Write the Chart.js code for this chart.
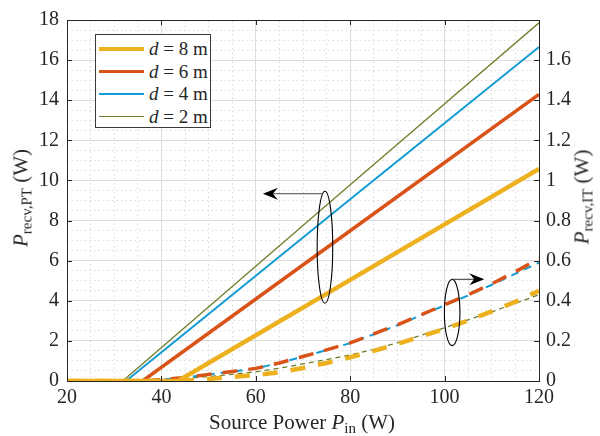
<!DOCTYPE html>
<html>
<head>
<meta charset="utf-8">
<script src="https://cdn.jsdelivr.net/npm/chart.js@4.4.0/dist/chart.umd.min.js"></script>
<style>
    html, body { margin: 0; padding: 0; background: #fff; }
    #wrap { position: relative; width: 600px; height: 436px; font-family: 'Liberation Serif', 'DejaVu Serif', serif; color: #262626; }
    #chart { position: absolute; left: 0; top: 0; }
    .ttl { position: absolute; font-size: 21px; white-space: nowrap; transform: translate(-50%, -50%); }
    .ttl sub { font-size: 15px; vertical-align: -4px; }
    .rot { transform: translate(-50%, -50%) rotate(-90deg); }
    #legend { position: absolute; left: 95px; top: 34px; width: 116px; height: 94px; border: 1px solid #3a3a3a; background: #fff; box-sizing: border-box; }
    .item { position: absolute; left: 3px; height: 22px; font-size: 19px; line-height: 22px; white-space: nowrap; }
    .swatch { position: absolute; left: 0; width: 45px; }
    .lbl { position: absolute; left: 50px; top: 0; }
</style>
</head>
<body>
<div id="wrap">
    <canvas id="chart" width="600" height="436"></canvas>
    <div class="ttl" style="left:302px; top:423px;">Source Power <i>P</i><sub>in</sub> (W)</div>
    <div class="ttl rot" style="left:22px; top:198px;"><i>P</i><sub>recv,PT</sub> (W)</div>
    <div class="ttl rot" style="left:583px; top:197px;"><i>P</i><sub>recv,IT</sub> (W)</div>
    <div id="legend"></div>
</div>
<script>
// Axis ranges and ticks
const pinTicks = [20, 40, 60, 80, 100, 120];
const ptTicks = [0, 2, 4, 6, 8, 10, 12, 14, 16, 18];

// Legend order: d = 8, 6, 4, 2 m
const distances = ['8', '6', '4', '2'];
const colors = ['#EDB120', '#D95319', '#129CD4', '#6E7E2A'];
const widths = [4.5, 3.5, 2, 1.3];
const dashes = [[15, 13], [15, 11], [8, 6], [5, 4]];

// Received power through PT (W), left axis, solid lines
const ptPin8 = [20, 43.5, 80, 120];
const pt8 = [0, 0, 5.04, 10.57];
const ptPin6 = [20, 36, 80, 120];
const pt6 = [0, 0, 7.49, 14.29];
const ptPin4 = [20, 32.5, 80, 120];
const pt4 = [0, 0, 9.06, 16.65];
const ptPin2 = [20, 31.8, 80, 120];
const pt2 = [0, 0, 9.78, 17.86];

// Received power through IT (W), right axis, dashed lines
const itPin = [20, 25, 30, 35, 40, 45, 50, 55, 60, 65, 70, 75, 80, 85, 90, 95, 100, 105, 110, 115, 120];
const it8 = [0, 0, 0, 0, 0, 0.002, 0.01, 0.02, 0.03, 0.043, 0.065, 0.09, 0.118, 0.15, 0.185, 0.222, 0.26, 0.302, 0.347, 0.395, 0.45];
const it6 = [0, 0, 0, 0, 0.006, 0.018, 0.033, 0.047, 0.063, 0.09, 0.122, 0.155, 0.19, 0.235, 0.28, 0.33, 0.38, 0.43, 0.485, 0.545, 0.61];
const it4 = [0, 0, 0, 0.002, 0.007, 0.018, 0.033, 0.047, 0.063, 0.09, 0.121, 0.154, 0.189, 0.233, 0.278, 0.328, 0.377, 0.427, 0.48, 0.535, 0.59];
const it2 = [0, 0, 0, 0.002, 0.006, 0.013, 0.022, 0.033, 0.046, 0.064, 0.085, 0.107, 0.13, 0.158, 0.19, 0.228, 0.266, 0.305, 0.345, 0.387, 0.43];

// Ellipse + arrow annotations (data units)
const ptMark = { cx: 74.65, cy: 6.67, rx: 1.65, ry: 2.79, ax: 74.2, ay: 9.34, tip: 61.5, axis: 'y' };
const itMark = { cx: 101.6, cy: 0.3415, rx: 1.65, ry: 0.165, ax: 101.6, ay: 0.507, tip: 108.4, axis: 'y2' };

const ptX = [ptPin8, ptPin6, ptPin4, ptPin2];
const ptY = [pt8, pt6, pt4, pt2];
const itY = [it8, it6, it4, it2];

const pairs = (xs, ys) => xs.map((x, i) => ({ x: x, y: ys[i] }));

const datasets = [];
distances.forEach((d, i) => {
    datasets.push({
        label: 'd = ' + d + ' m',
        data: pairs(ptX[i], ptY[i]),
        yAxisID: 'y',
        borderColor: colors[i],
        borderWidth: widths[i],
        pointRadius: 0,
        tension: 0,
        order: 10 + i
    });
});
distances.forEach((d, i) => {
    datasets.push({
        label: 'IT d = ' + d + ' m',
        data: pairs(itPin, itY[i]),
        yAxisID: 'y2',
        borderColor: colors[i],
        borderWidth: widths[i],
        borderDash: dashes[i],
        pointRadius: 0,
        tension: 0,
        order: 10 + i
    });
});

const axisColor = '#262626';
const majorGrid = '#dedede';
const minorGrid = '#dadada';
const tickFont = { family: "'Liberation Serif', serif", size: 20 };

// Inward tick marks and the two annotations
const decorPlugin = {
    id: 'decor',
    afterDatasetsDraw(chart) {
        const ctx = chart.ctx;
        const { x, y, y2 } = chart.scales;
        const a = chart.chartArea;
        ctx.save();
        ctx.strokeStyle = axisColor;
        ctx.lineWidth = 1;
        ctx.beginPath();
        pinTicks.forEach(v => {
            const px = Math.round(x.getPixelForValue(v)) + 0.5;
            ctx.moveTo(px, a.bottom); ctx.lineTo(px, a.bottom - 5);
            ctx.moveTo(px, a.top); ctx.lineTo(px, a.top + 5);
        });
        ptTicks.forEach(v => {
            const py = Math.round(y.getPixelForValue(v)) + 0.5;
            ctx.moveTo(a.left, py); ctx.lineTo(a.left + 5, py);
            ctx.moveTo(a.right, py); ctx.lineTo(a.right - 5, py);
        });
        ctx.stroke();

        [ptMark, itMark].forEach(m => {
            const ys = m.axis === 'y' ? y : y2;
            const cx = x.getPixelForValue(m.cx), cy = ys.getPixelForValue(m.cy);
            const rx = x.getPixelForValue(m.cx + m.rx) - cx;
            const ry = cy - ys.getPixelForValue(m.cy + m.ry);
            ctx.strokeStyle = '#000';
            ctx.lineWidth = 1.1;
            ctx.beginPath();
            ctx.ellipse(cx, cy, rx, ry, 0, 0, Math.PI * 2);
            ctx.stroke();
            const sx = x.getPixelForValue(m.ax), sy = ys.getPixelForValue(m.ay);
            const tx = x.getPixelForValue(m.tip);
            const dir = tx < sx ? -1 : 1;
            ctx.strokeStyle = '#444';
            ctx.lineWidth = 1.1;
            ctx.beginPath();
            ctx.moveTo(sx, sy); ctx.lineTo(tx - dir * 8, sy);
            ctx.stroke();
            ctx.fillStyle = '#000';
            ctx.beginPath();
            ctx.moveTo(tx, sy);
            ctx.lineTo(tx - dir * 15, sy - 6);
            ctx.lineTo(tx - dir * 10, sy);
            ctx.lineTo(tx - dir * 15, sy + 6);
            ctx.closePath();
            ctx.fill();
        });
        ctx.restore();
    }
};

new Chart(document.getElementById('chart'), {
    type: 'line',
    data: { datasets: datasets },
    options: {
        responsive: false,
        animation: false,
        layout: { padding: 0 },
        plugins: { legend: { display: false }, tooltip: { enabled: false } },
        scales: {
            x: {
                type: 'linear', position: 'bottom', min: 20, max: 120,
                afterFit: s => { s.height = 55; },
                ticks: { stepSize: 20, color: axisColor, font: tickFont, padding: 5, maxRotation: 0, autoSkip: false },
                grid: { color: majorGrid, lineWidth: 1, drawTicks: false },
                border: { color: axisColor, width: 1 }
            },
            x2: {
                type: 'linear', position: 'top', min: 20, max: 120,
                afterFit: s => { s.height = 14; },
                ticks: { stepSize: 5, display: false, autoSkip: false },
                grid: { color: minorGrid, lineWidth: 1, drawTicks: false, z: -1 },
                border: { color: axisColor, width: 1, dash: [1.5, 3] }
            },
            y: {
                type: 'linear', position: 'left', min: 0, max: 18,
                afterFit: s => { s.width = 67; },
                ticks: { stepSize: 2, color: axisColor, font: tickFont, padding: 8, autoSkip: false },
                grid: { color: majorGrid, lineWidth: 1, drawTicks: false },
                border: { color: axisColor, width: 1 }
            },
            y2: {
                type: 'linear', position: 'right', min: 0, max: 1.8,
                afterFit: s => { s.width = 61; },
                ticks: {
                    stepSize: 0.05, color: axisColor, font: tickFont, padding: 7, autoSkip: false,
                    callback: v => {
                        const k = Math.round(v / 0.2);
                        return (Math.abs(v - k * 0.2) < 1e-6 && k < 9) ? String(+(k * 0.2).toFixed(1)) : '';
                    }
                },
                grid: { color: minorGrid, lineWidth: 1, drawTicks: false, z: -1 },
                border: { color: axisColor, width: 1, dash: [1.5, 3] }
            }
        }
    },
    plugins: [decorPlugin]
});

// Legend box (solid series only)
const legend = document.getElementById('legend');
distances.forEach((d, i) => {
    const item = document.createElement('div');
    item.className = 'item';
    item.style.top = (3 + i * 22.5) + 'px';
    const sw = document.createElement('div');
    sw.className = 'swatch';
    sw.style.height = widths[i] + 'px';
    sw.style.top = (11 - widths[i] / 2) + 'px';
    sw.style.background = colors[i];
    const lbl = document.createElement('span');
    lbl.className = 'lbl';
    lbl.innerHTML = '<i>d</i> = ' + d + ' m';
    item.appendChild(sw);
    item.appendChild(lbl);
    legend.appendChild(item);
});
</script>
</body>
</html>
